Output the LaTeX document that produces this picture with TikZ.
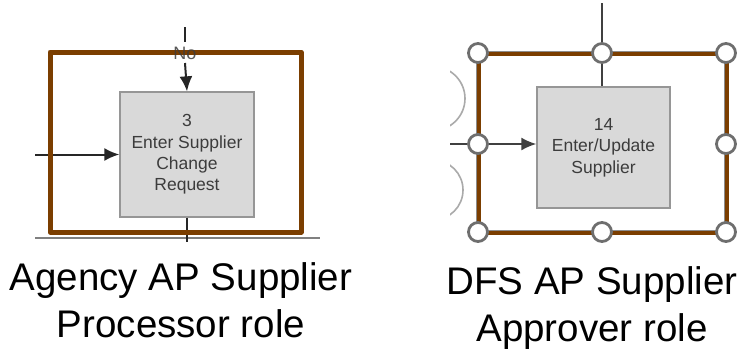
\documentclass[tikz,border=0pt]{standalone}
\usepackage{fontspec}
\setmainfont{Liberation Sans}
\usetikzlibrary{arrows.meta}

\definecolor{frameBrown}{RGB}{123,62,0}
\definecolor{boxFill}{RGB}{217,217,217}
\definecolor{boxLine}{RGB}{150,150,150}
\definecolor{boxText}{RGB}{60,60,60}
\definecolor{handleLine}{RGB}{110,110,110}
\definecolor{arcGray}{RGB}{170,170,170}

\tikzset{
  stepbox/.style={rectangle, draw=boxLine, line width=1.3pt, fill=boxFill,
    text=boxText, align=center, inner sep=0pt,
    font=\fontsize{17.5}{21.3}\selectfont},
  flow/.style={line width=2pt, draw=black!85},
  flowarrow/.style={flow, -{Latex[length=15pt,width=13pt]}},
  handle/.style={circle, draw=handleLine, line width=2.8pt, fill=white,
    minimum size=19pt, inner sep=0pt},
  rolelabel/.style={align=center, inner sep=0pt,
    font=\fontsize{38.5}{47}\selectfont},
}

\begin{document}
\begin{tikzpicture}[x=1pt, y=-1pt]
\useasboundingbox (0,0) rectangle (751,351);
\fill[white] (0,0) rectangle (751,351);

% ---------- Agency lane ----------
\node[stepbox, minimum width=134pt, minimum height=125pt] (s3) at (187,154.5)
  {3\\Enter Supplier\\Change\\Request};

\coordinate (inTopA) at (185,27);
\coordinate (inTopB) at (185,42);
\coordinate (inTopC) at (185,63);
\coordinate (inLeft) at (35,154.5);
\coordinate (outBot) at (187,242);
\coordinate (laneL) at (35,238);
\coordinate (laneR) at (320,238);

\draw[line width=2.2pt, draw=black!50] (laneL) -- (laneR);
\draw[flow] (inTopA) -- (inTopB);
\draw[flowarrow] (inTopC) -- (s3.north);
\draw[flowarrow] (inLeft) -- (s3.west);
\draw[flow] (s3.south) -- (outBot);

\draw[frameBrown, line width=5pt, line join=round] (50,52) rectangle (301,232);
\node[text=boxText, opacity=0.85, inner sep=0pt,
  font=\fontsize{18}{20}\selectfont] (noLbl) at (185,53) {No};

\node[rolelabel, anchor=base] (roleA) at (181,337)
  {Agency AP Supplier\\Processor role};

% ---------- DFS lane ----------
\begin{scope}
  \clip (450,60) rectangle (478,225);
  \draw[arcGray, line width=1.6pt] (433,98.5) circle (32);
  \draw[arcGray, line width=1.6pt] (433,190) circle (30);
\end{scope}

\node[stepbox, minimum width=133pt, minimum height=121pt] (s14) at (603.5,147.5)
  {14\\Enter/Update\\Supplier};

\coordinate (topIn) at (602,3);
\coordinate (leftIn) at (450,144);

\draw[black!45, line width=1.3pt] (477,52) rectangle (725,231);
\draw[frameBrown, line width=3.2pt] (479,54) rectangle (727,233);

\draw[flow, draw=black!75] (topIn) -- (602,53) -- (s14.north -| 602,0);
\draw[flowarrow, draw=black!75] (leftIn) -- (leftIn -| s14.west);

\node[handle] (hNW) at (478,53) {};
\node[handle] (hN)  at (602,53) {};
\node[handle] (hNE) at (726,53) {};
\node[handle] (hW)  at (478,144) {};
\node[handle] (hE)  at (726,144) {};
\node[handle] (hSW) at (478,232) {};
\node[handle] (hS)  at (602,232) {};
\node[handle] (hSE) at (726,232) {};

\node[rolelabel, anchor=base] (roleB) at (592,341)
  {DFS AP Supplier\\Approver role};
\end{tikzpicture}
\end{document}
